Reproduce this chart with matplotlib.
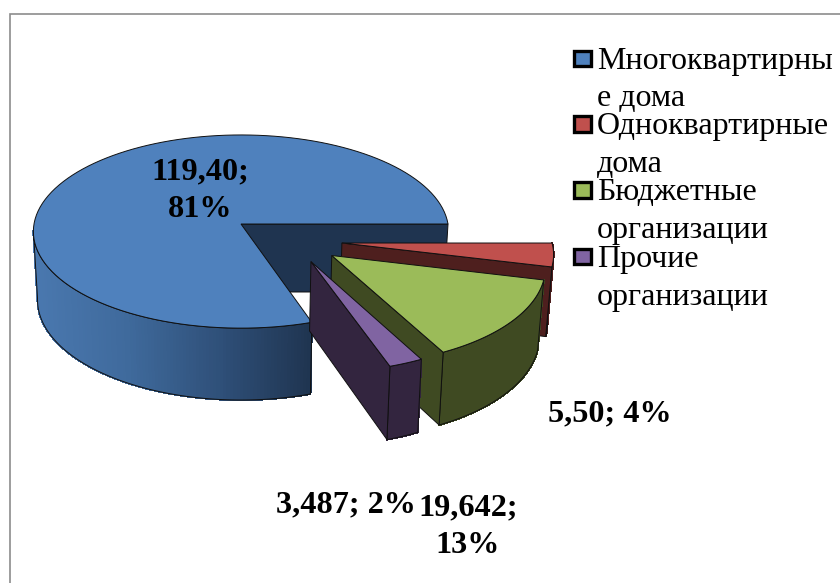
from matplotlib.colors import LinearSegmentedColormap
from matplotlib.patches import Polygon, Rectangle
import matplotlib.pyplot as plt
import numpy as np

plt.rcParams["font.family"] = ["Liberation Serif", "DejaVu Serif"]

# drawn counter-clockwise from the east, the way the slices sit in the picture
values = [119.40, 3.487, 19.642, 5.50]
top_colors = ["#4F81BD", "#8064A2", "#9BBB59", "#C0504D"]
wall_colors = ["#1F3450", "#33253F", "#3F4A22", "#4E1F1E"]
explode_u = [0.0, 0.328, 0.4275, 0.48]
explode_v = [0.0, -0.38, -0.32, -0.195]
draw_order = [0, 3, 2, 1]

legend_lines = [
    ["Многоквартирны", "е дома"],
    ["Одноквартирные", "дома"],
    ["Бюджетные", "организации"],
    ["Прочие", "организации"],
]
legend_colors = ["#4F81BD", "#C0504D", "#9BBB59", "#8064A2"]
data_labels = ["119,40;\n81%", "5,50; 4%", "3,487; 2%", "19,642;\n13%"]

CX, TOP_Y, BOTTOM_Y = 241, 224, 292
RX, TOP_RY, BOTTOM_RY = 207, 96, 99.6
BOTTOM_SCALE = 0.98
PERSPECTIVE = 0.078

bounds = np.concatenate([[0], np.cumsum(values)]) / np.sum(values) * 360


def warp(angle):
    # the view pulls the first cut back by a couple of degrees
    return np.interp(angle, [0, bounds[1], 360], [0, bounds[1] - 1.9, 360])


def project(u, v, bottom=False):
    w = 1 + PERSPECTIVE * v
    if bottom:
        return CX + BOTTOM_SCALE * RX * u / w, BOTTOM_Y - BOTTOM_RY * v / w
    return CX + RX * u / w, TOP_Y - TOP_RY * v / w


def rim(start, end, du, dv, bottom=False):
    angles = np.radians(warp(np.linspace(start, end, 120)))
    x, y = project(np.cos(angles) + du, np.sin(angles) + dv, bottom)
    return np.column_stack([x, y])


def point(du, dv, bottom=False):
    return np.array(project(du, dv, bottom))


def draw_wall(ax, angle, du, dv, color, zorder):
    # flat cut face from the apex to the rim
    rad = np.radians(warp(angle))
    pts = [
        point(du, dv),
        point(du + np.cos(rad), dv + np.sin(rad)),
        point(du + np.cos(rad), dv + np.sin(rad), True),
        point(du, dv, True),
    ]
    ax.add_patch(Polygon(pts, fc=color, ec="#101010", lw=0.7, zorder=zorder))


def draw_side(ax, start, end, du, dv, cmap, zorder):
    top = rim(start, end, du, dv)
    low = rim(start, end, du, dv, True)
    xmin, xmax = top[:, 0].min(), top[:, 0].max()
    for i in range(len(top) - 1):
        quad = [top[i], top[i + 1], low[i + 1], low[i]]
        c = cmap((top[i, 0] - xmin) / (xmax - xmin))
        ax.add_patch(Polygon(quad, fc=c, ec=c, lw=0.8, antialiased=False, zorder=zorder))
    outline = np.vstack([top, low[::-1]])
    ax.add_patch(Polygon(outline, fc="none", ec="#101010", lw=0.7, zorder=zorder))


fig = plt.figure(figsize=(8.4, 5.83), dpi=100)
ax = fig.add_axes([0, 0, 1, 1])
ax.set_xlim(0, 840)
ax.set_ylim(583, 0)
ax.axis("off")

ax.add_patch(Rectangle((9.5, 13.5), 900, 600, fc="white", ec="#8C8C8C", lw=1.2, zorder=0))

blue_side = LinearSegmentedColormap.from_list("side", ["#4A78AF", "#3F6A9C", "#2F5079", "#1F3450"])

for z, i in enumerate(draw_order):
    start, end = bounds[i], bounds[i + 1]
    du, dv = explode_u[i], explode_v[i]
    level = 2 + z * 3
    flat = LinearSegmentedColormap.from_list("flat", [wall_colors[i]] * 2)
    if i == 0:
        draw_wall(ax, start, du, dv, wall_colors[i], level)
        draw_side(ax, 185, end, du, dv, blue_side, level)
    else:
        draw_side(ax, start, end, du, dv, flat, level)
        draw_wall(ax, start, du, dv, wall_colors[i], level)
    face = np.vstack([point(du, dv), rim(start, end, du, dv)])
    ax.add_patch(Polygon(face, fc=top_colors[i], ec="#101010", lw=0.7, zorder=level + 1))

label_pos = [(200, 190.5), (610, 414), (346, 505), (468, 526.5)]
for text, (x, y) in zip(data_labels, label_pos):
    ax.text(x, y, text, fontsize=23.2, fontweight="bold", ha="center", va="center",
            linespacing=1.4, zorder=30)

marker_y = [58, 123.5, 189.5, 256]
for lines, color, y in zip(legend_lines, legend_colors, marker_y):
    ax.add_patch(Rectangle((574, y - 7.5), 16.5, 15.5, fc=color, ec="black", lw=2.4, zorder=20))
    ax.text(597, y + 3, lines[0], fontsize=23, ha="left", va="center", zorder=20)
    ax.text(597, y + 41, lines[1], fontsize=23, ha="left", va="center", zorder=20)

fig.savefig("out.png", dpi=100)
